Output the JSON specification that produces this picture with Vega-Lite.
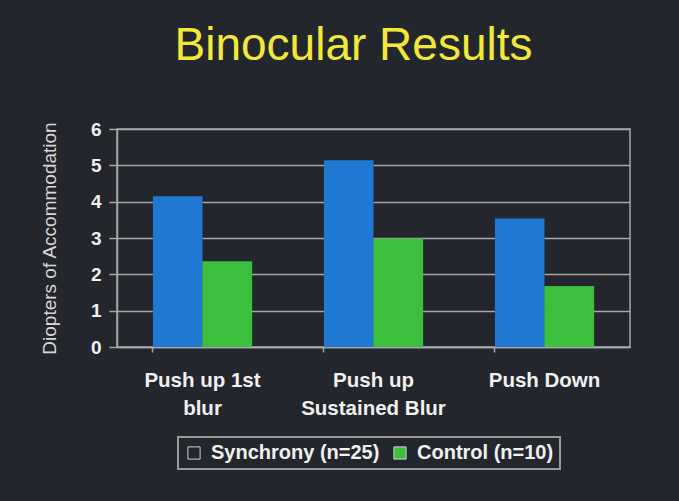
{
  "$schema": "https://vega.github.io/schema/vega-lite/v6.json",
  "width": 513,
  "height": 218,
  "autosize": "none",
  "padding": {"left": 117, "top": 129, "right": 49, "bottom": 154},
  "background": "#23262d",
  "config": {
    "font": "Liberation Sans",
    "view": {"stroke": "#a8a8a8", "strokeWidth": 1.5}
  },
  "title": {
    "text": "Binocular Results",
    "color": "#f2e83a",
    "fontSize": 46,
    "fontWeight": "normal",
    "anchor": "middle",
    "offset": 50,
    "dx": -20
  },
  "data": {
    "values": [
      {"test": "Push up 1st blur", "group": "Synchrony (n=25)", "value": 4.15},
      {"test": "Push up 1st blur", "group": "Control (n=10)", "value": 2.35},
      {"test": "Push up Sustained Blur", "group": "Synchrony (n=25)", "value": 5.14},
      {"test": "Push up Sustained Blur", "group": "Control (n=10)", "value": 2.98},
      {"test": "Push Down", "group": "Synchrony (n=25)", "value": 3.54},
      {"test": "Push Down", "group": "Control (n=10)", "value": 1.67}
    ]
  },
  "encoding": {
    "x": {
      "field": "test",
      "type": "nominal",
      "sort": ["Push up 1st blur", "Push up Sustained Blur", "Push Down"],
      "scale": {"paddingInner": 0.42, "paddingOuter": 0.21},
      "axis": {
        "title": null,
        "labelAngle": 0,
        "labelExpr": "datum.value == 'Push up 1st blur' ? ['Push up 1st', 'blur'] : datum.value == 'Push up Sustained Blur' ? ['Push up', 'Sustained Blur'] : datum.value",
        "labelFontSize": 20.5,
        "labelFontWeight": "bold",
        "labelColor": "#f0f0f0",
        "labelLineHeight": 28,
        "labelPadding": 18,
        "bandPosition": 0,
        "tickSize": 5,
        "tickColor": "#a8a8a8",
        "tickWidth": 1.5,
        "domainColor": "#a8a8a8",
        "domainWidth": 1.5
      }
    },
    "xOffset": {
      "field": "group",
      "type": "nominal",
      "sort": ["Synchrony (n=25)", "Control (n=10)"],
      "scale": {"paddingInner": 0, "paddingOuter": 0}
    },
    "y": {
      "field": "value",
      "type": "quantitative",
      "scale": {"domain": [0, 6], "nice": false},
      "axis": {
        "title": "Diopters of Accommodation",
        "titleFontSize": 19,
        "titleFontWeight": "normal",
        "titleColor": "#d8d8d8",
        "titlePadding": 31,
        "values": [0, 1, 2, 3, 4, 5, 6],
        "labelFontSize": 19,
        "labelFontWeight": "bold",
        "labelColor": "#f0f0f0",
        "labelPadding": 8,
        "tickSize": 8,
        "tickColor": "#a8a8a8",
        "tickWidth": 1.5,
        "domainColor": "#a8a8a8",
        "domainWidth": 1.5,
        "grid": true,
        "gridColor": "#a8a8a8",
        "gridWidth": 1.5
      }
    }
  },
  "layer": [
    {
      "mark": {"type": "bar"},
      "encoding": {
        "color": {
          "field": "group",
          "type": "nominal",
          "scale": {"domain": ["Synchrony (n=25)", "Control (n=10)"], "range": ["#23262d", "#3cbf3c"]},
          "legend": {
            "title": null,
            "orient": "none",
            "legendX": 61,
            "legendY": 308,
            "direction": "horizontal",
            "symbolType": "square",
            "symbolSize": 150,
            "symbolStrokeColor": "#cfcfcf",
            "symbolStrokeWidth": 1,
            "labelFontSize": 20,
            "labelFontWeight": "bold",
            "labelColor": "#f0f0f0",
            "labelOffset": 7,
            "labelLimit": 400,
            "columnPadding": 10,
            "padding": 6,
            "strokeColor": "#9a9a9a",
            "encode": {
              "legend": {"update": {"strokeWidth": {"value": 2}}}
            }
          }
        }
      }
    },
    {
      "mark": {"type": "bar"},
      "encoding": {
        "color": {
          "field": "group",
          "type": "nominal",
          "scale": {"domain": ["Synchrony (n=25)", "Control (n=10)"], "range": ["#1f78d2", "#3cbf3c"]},
          "legend": null
        }
      }
    }
  ],
  "resolve": {"scale": {"color": "independent"}}
}
